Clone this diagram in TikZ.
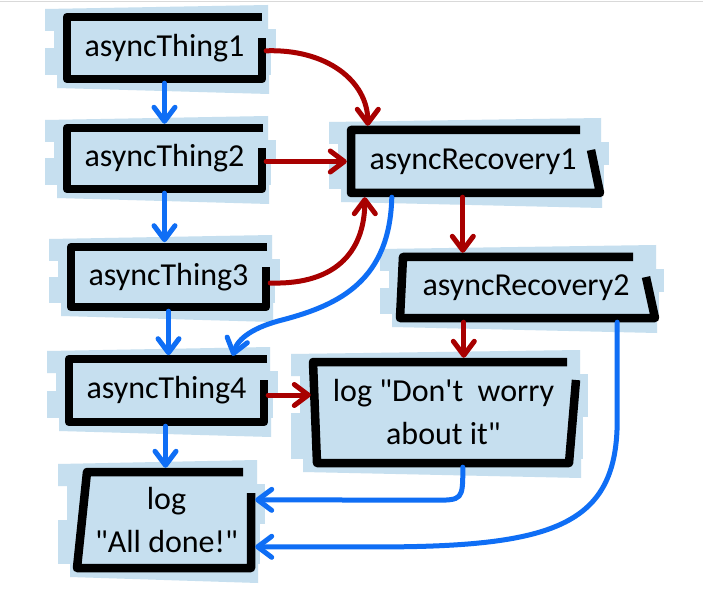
\documentclass[tikz,border=0pt]{standalone}
\usepackage{fontspec}
\setmainfont{Carlito}[Ligatures=TeXOff]
\usetikzlibrary{arrows.meta,calc}
\definecolor{bgblue}{RGB}{198,223,239}
\definecolor{myred}{RGB}{168,0,0}
\definecolor{myblue}{RGB}{15,110,245}
\newcommand\bgstrips[4]{%
 \fill[bgfill] ({#1-22},{#2-8}) -- ({#3+6},{#2-12}) -- ({#3+6},{#2+14}) -- ({#1-22},{#2+14}) -- cycle;
 \fill[bgfill] ({#1-13},{#2+12}) rectangle ({#3+14},{#2+0.5*(#4-#2)+4});
 \fill[bgfill] ({#1-22},{#2+0.5*(#4-#2)}) rectangle ({#3+9},{#4-4});
 \fill[bgfill] ({#1-10},{#4-6}) -- ({#3+7},{#4-6}) -- ({#3+7},{#4+15}) -- ({#1-10},{#4+9}) -- cycle;
}
\begin{document}
\begin{tikzpicture}[x=1pt,y=-1pt,
  bgfill/.style={fill=bgblue},
  border/.style={draw=black,line width=8.5pt,line join=round,line cap=butt},
  boxtext/.style={rectangle,inner sep=0pt,align=center,font=\fontsize{32}{43}\selectfont},
  redarr/.style={draw=myred,line width=5pt,line cap=round,-{Straight Barb[length=14pt,width=21pt,round]}},
  bluearr/.style={draw=myblue,line width=5pt,line cap=round,-{Straight Barb[length=14pt,width=21pt,round]}}]
\useasboundingbox (0,0) rectangle (703,601);
\fill[white] (0,0) rectangle (703,601);
\draw[black!15,line width=1.2pt] (0,1.5) -- (703,1.5);
% backgrounds
\bgstrips{67}{17}{262}{79}
\bgstrips{67}{128}{262}{189}
\bgstrips{71}{247}{266}{307}
\bgstrips{69}{359}{264}{422}
\bgstrips{351}{130}{595}{193}
\bgstrips{402}{257}{650}{318}
\bgstrips{313}{362}{574}{463}
\bgstrips{80}{472}{251}{568}
% borders
\draw[border] (262,17) -- (67,17) -- (67,79) -- (262,79) -- (262,38);
\draw[border] (263,128) -- (67,128) -- (67,189) -- (262,189) -- (262,148);
\draw[border] (267,247) -- (71,247) -- (71,307) -- (266,307) -- (266,267);
\draw[border] (267,359) -- (69,359) -- (69,422) -- (264,422) -- (264,380);
\draw[border] (580,130) -- (351,130) -- (351,193) -- (600,193) -- (591,150);
\draw[border] (633,257) -- (403,257) -- (400,318) -- (655,318) -- (646,277);
\draw[border] (567,362) -- (313,362) -- (317,463) -- (569,463) -- (576,380);
\draw[border] (243,472) -- (87,472) -- (77,568) -- (251,568) -- (251,493);
% nodes
\node[boxtext,minimum width=195pt,minimum height=62pt] (t1) at (164.5,48) {asyncThing1};
\node[boxtext,minimum width=195pt,minimum height=61pt] (t2) at (164.5,158.5) {asyncThing2};
\node[boxtext,minimum width=195pt,minimum height=60pt] (t3) at (168.5,277) {asyncThing3};
\node[boxtext,minimum width=195pt,minimum height=63pt] (t4) at (166.5,390.5) {asyncThing4};
\node[boxtext,minimum width=244pt,minimum height=63pt] (r1) at (473,161.5) {asyncRecovery1};
\node[boxtext,minimum width=248pt,minimum height=61pt] (r2) at (526,287.5) {asyncRecovery2};
\node[boxtext,minimum width=257pt,minimum height=101pt] (lg) at (443.5,412.5) {log "Don't\ \ worry\\about it"};
\node[boxtext,minimum width=169pt,minimum height=96pt] (ld) at (166.5,520) {log\\"All done!"};
% connectors
\draw[bluearr] ($(t1.south)+(0,4)$) -- ($(t2.north)+(0,-4)$);
\draw[bluearr] ($(t2.south)+(0,4)$) -- ($(t2.south)+(0,53)$);
\draw[bluearr] ($(t3.south)+(0,4)$) -- ($(t3.south)+(0,48)$);
\draw[bluearr] ($(t4.south)+(-1,4)$) -- ($(t4.south |- ld.north)+(-1,-4)$);
\draw[redarr] ($(t1.north east)+(4,34)$) .. controls +(60,-2) and +(0,-45) .. ($(r1.north west)+(17,-4)$);
\draw[redarr] ($(t2.east)+(4,3)$) -- ($(r1.west)+(-4,0)$);
\draw[redarr] ($(t3.east)+(4,6)$) .. controls +(70,2) and +(0,50) .. ($(r1.south west)+(14,4)$);
\draw[bluearr] ($(r1.south west)+(41,4)$) .. controls +(-2,83) and +(57,-15) .. ($(t4.north west)+(214,-39)$) .. controls +(-28,7) and +(5,-18) .. ($(t4.north west)+(164,-3)$);
\draw[redarr] ($(r1.south west)+(112,4)$) -- ($(r2.north west)+(61,-4)$);
\draw[redarr] ($(r2.south west)+(62,4)$) -- ($(lg.north west)+(149,-4)$);
\draw[redarr] ($(t4.east)+(4,4.5)$) -- ($(lg.west)+(-4,-17.5)$);
\draw[bluearr] ($(lg.south west)+(148,4)$) .. controls +(0,33) and +(30,0) .. ($(lg.south west)+(118,37)$) -- ($(ld.north east)+(4,28)$);
\draw[bluearr] ($(r2.south east)+(-33,4)$) -- ++(0,98) .. controls +(0,100) and +(160,-2) .. ($(ld.north east)+(149,75)$) -- ($(ld.north east)+(4,75)$);
\end{tikzpicture}
\end{document}
